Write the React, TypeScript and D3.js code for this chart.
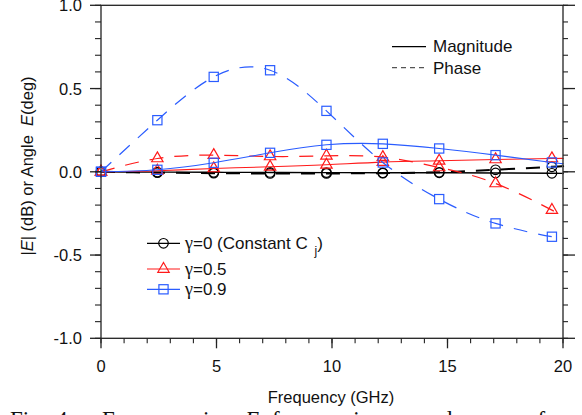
import React from "react";
import * as d3 from "d3";

// sample frequencies (GHz); the last one only carries the line to the frame edge
const freq = [0, 2.44, 4.88, 7.32, 9.76, 12.2, 14.64, 17.08, 19.52, 20];
const markerCount = 9;

const magG0 = [0, -0.002, -0.003, -0.004, -0.005, -0.006, -0.006, -0.007, -0.009, -0.01];
const phaseG0 = [0, -0.005, -0.008, -0.01, -0.01, -0.008, -0.003, 0.012, 0.03, 0.033];
const magG05 = [0, 0.006, 0.02, 0.03, 0.042, 0.058, 0.066, 0.074, 0.08, 0.08];
const phaseG05 = [0, 0.08, 0.1, 0.092, 0.096, 0.088, 0.026, -0.07, -0.23, -0.265];
const magG09 = [0, 0.012, 0.054, 0.114, 0.162, 0.168, 0.14, 0.1, 0.056, 0.05];
const phaseG09 = [0, 0.31, 0.57, 0.61, 0.366, 0.056, -0.164, -0.31, -0.39, -0.395];

const yMajor = [-1, -0.5, 0, 0.5, 1];
const yMinor = d3.range(-10, 11).map((d) => d / 10);
const xMajor = [0, 5, 10, 15, 20];
const xMinor = d3.range(0, 21);

const captionWords = [
  { t: "Fig.", x: 10 },
  { t: "4.", x: 56 },
  { t: "Frequency", x: 102 },
  { t: "in", x: 203 },
  { t: "E", x: 245, italic: true },
  { t: "for", x: 272 },
  { t: "various", x: 324 },
  { t: "values", x: 425 },
  { t: "of", x: 526 },
];

const BLUE = "#2a5cff";
const RED = "#ff1a1a";
const AXIS = "#222";
const SANS = "'Liberation Sans', Arial, Helvetica, sans-serif";
const SERIF = "'Liberation Serif', 'Times New Roman', serif";

const x = d3.scaleLinear().domain([0, 20]).range([101, 563]);
const y = d3.scaleLinear().domain([-1, 1]).range([338.3, 5.3]);

const line = d3
  .line<number>()
  .x((_, i) => x(freq[i]))
  .y((d) => y(d))
  .curve(d3.curveNatural);

const Marker = ({ kind, cx, cy, color }) => {
  if (kind === "circle")
    return <circle cx={cx} cy={cy} r={4.8} fill="none" stroke={color} strokeWidth={1.2} />;
  if (kind === "square")
    return (
      <rect x={cx - 4.6} y={cy - 4.6} width={9.2} height={9.2} fill="none" stroke={color} strokeWidth={1.2} />
    );
  const tri = d3.symbol(d3.symbolTriangle, 56)();
  return (
    <path d={tri} transform={`translate(${cx},${cy})`} fill="none" stroke={color} strokeWidth={1.2} />
  );
};

const series = [
  { mag: magG0, phase: phaseG0, color: "#000", kind: "circle", width: 1.4, phaseWidth: 2 },
  { mag: magG05, phase: phaseG05, color: RED, kind: "triangle", width: 1.1, phaseWidth: 1.2 },
  { mag: magG09, phase: phaseG09, color: BLUE, kind: "square", width: 1.1, phaseWidth: 1.2 },
];

export default function App() {
  return (
    <svg
      width={582}
      height={415}
      style={{ position: "absolute", left: 0, top: 0, background: "#fff" }}
      fontFamily={SANS}
    >
      {/* curves */}
      {series.map((s, k) => (
        <g key={k}>
          <path d={line(s.mag)} fill="none" stroke={s.color} strokeWidth={s.width} />
          <path
            d={line(s.phase)}
            fill="none"
            stroke={s.color}
            strokeWidth={s.phaseWidth}
            strokeDasharray="14,11"
          />
          {freq.slice(0, markerCount).map((f, i) => (
            <g key={i}>
              <Marker kind={s.kind} cx={x(f)} cy={y(s.mag[i])} color={s.color} />
              <Marker kind={s.kind} cx={x(f)} cy={y(s.phase[i])} color={s.color} />
            </g>
          ))}
        </g>
      ))}

      {/* frame */}
      <rect x={x(0)} y={y(1)} width={x(20) - x(0)} height={y(-1) - y(1)} fill="none" stroke={AXIS} strokeWidth={1.3} />

      {/* y ticks, both sides */}
      {yMinor.map((v) => (
        <g key={v} stroke={AXIS} strokeWidth={1.1}>
          <line x1={x(0) - 6} x2={x(0)} y1={y(v)} y2={y(v)} />
          <line x1={x(20)} x2={x(20) + 5} y1={y(v)} y2={y(v)} />
        </g>
      ))}
      {yMajor.map((v) => (
        <g key={v}>
          <line x1={x(0) - 11} x2={x(0)} y1={y(v)} y2={y(v)} stroke={AXIS} strokeWidth={1.3} />
          <line x1={x(20)} x2={x(20) + 12} y1={y(v)} y2={y(v)} stroke={AXIS} strokeWidth={1.3} />
          <text x={82} y={y(v) + 6} textAnchor="end" fontSize={16.5} fill="#111">
            {v.toFixed(1)}
          </text>
        </g>
      ))}

      {/* x ticks */}
      {xMinor.map((v) => (
        <line key={v} x1={x(v)} x2={x(v)} y1={y(-1)} y2={y(-1) + 5} stroke={AXIS} strokeWidth={1.1} />
      ))}
      {xMajor.map((v) => (
        <g key={v}>
          <line x1={x(v)} x2={x(v)} y1={y(-1)} y2={y(-1) + 10} stroke={AXIS} strokeWidth={1.3} />
          <text x={x(v)} y={372} textAnchor="middle" fontSize={16.5} fill="#111">
            {v}
          </text>
        </g>
      ))}

      {/* axis titles */}
      <text x={331} y={403} textAnchor="middle" fontSize={16.5} fill="#111">
        Frequency (GHz)
      </text>
      <text transform="translate(33,166) rotate(-90)" textAnchor="middle" fontSize={16.5} fill="#111">
        |<tspan fontStyle="italic">E</tspan>| (dB) or Angle{"\u00A0\u00A0"}
        <tspan fontStyle="italic">E</tspan>(deg)
      </text>

      {/* line style legend */}
      <line x1={392} x2={426} y1={46.7} y2={46.7} stroke="#000" strokeWidth={1.3} />
      <line x1={392} x2={426} y1={67.7} y2={67.7} stroke="#555" strokeWidth={1.3} strokeDasharray="5,4" />
      <text x={433} y={52} fontSize={17} fill="#111">Magnitude</text>
      <text x={433} y={73.5} fontSize={17} fill="#111">Phase</text>

      {/* gamma legend */}
      {[
        { s: series[0], ly: 243.3 },
        { s: series[1], ly: 269 },
        { s: series[2], ly: 289.3 },
      ].map(({ s, ly }, i) => (
        <g key={i}>
          <line x1={147} x2={180} y1={ly} y2={ly} stroke={s.color} strokeWidth={1.2} />
          <Marker kind={s.kind} cx={163.5} cy={ly} color={s.color} />
        </g>
      ))}
      <text x={185} y={249.3} fontSize={17} fill="#111">
        <tspan fontFamily={SERIF} fontSize={18}>γ</tspan>=0 (Constant C{"\u00A0"}
        <tspan dx={2} dy={6} fontSize={12}>j</tspan>
        <tspan dy={-6}>)</tspan>
      </text>
      <text x={185} y={275} fontSize={17} fill="#111">
        <tspan fontFamily={SERIF} fontSize={18}>γ</tspan>=0.5
      </text>
      <text x={185} y={295.3} fontSize={17} fill="#111">
        <tspan fontFamily={SERIF} fontSize={18}>γ</tspan>=0.9
      </text>

      {/* figure caption, cut by the page edge */}
      <g fontFamily={SERIF} fontSize={23} fill="#111">
        {captionWords.map((w) => (
          <text key={w.t} x={w.x} y={427} fontStyle={w.italic ? "italic" : "normal"}>
            {w.t}
          </text>
        ))}
      </g>
    </svg>
  );
}
